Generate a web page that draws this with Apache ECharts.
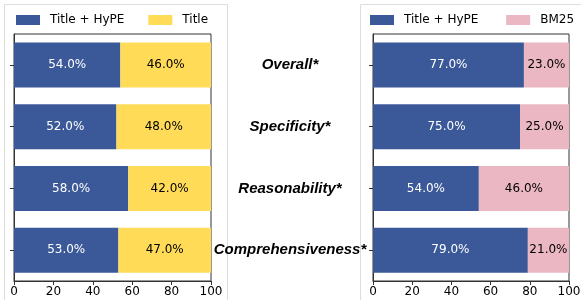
<!DOCTYPE html>
<html>
<head>
    <meta charset="utf-8">
    <title>HyPE comparison</title>
    <script src="https://cdn.jsdelivr.net/npm/echarts@6/dist/echarts.min.js"></script>
</head>
<body style="margin:0;background:#fff;">
    <div id="main" style="width:581px;height:300px;"></div>
    <script type="text/javascript">
    // data
    var categories = ['Overall*', 'Specificity*', 'Reasonability*', 'Comprehensiveness*'];
    var hypeVsTitle = [54, 52, 58, 53];
    var titleOnly = [46, 48, 42, 47];
    var hypeVsBm25 = [77, 75, 54, 79];
    var bm25 = [23, 25, 46, 21];
    var xTicks = [0, 20, 40, 60, 80, 100];

    var BLUE = '#3b5998', YELLOW = '#ffdb58', PINK = '#ebb7c3';
    var font = 'DejaVu Sans';

    function pct(p) { return p.value.toFixed(1) + '%'; }

    function xAxis(idx) {
        return {
            gridIndex: idx, type: 'value', min: xTicks[0], max: xTicks[xTicks.length - 1], interval: 20,
            axisLine: {show: true, lineStyle: {color: '#333'}},
            axisTick: {show: true, length: 4, lineStyle: {color: '#333'}},
            axisLabel: {fontFamily: font, fontSize: 12, color: '#000', margin: 5},
            splitLine: {show: false}
        };
    }

    function yAxis(idx, showLabels) {
        return {
            gridIndex: idx, type: 'category', data: categories, inverse: true,
            axisLine: {show: true, lineStyle: {color: '#333'}},
            axisTick: {show: true, alignWithLabel: true, length: 4, lineStyle: {color: '#333'}},
            axisLabel: showLabels ? {
                show: true, align: 'center', margin: 83,
                fontFamily: 'Liberation Sans', fontWeight: 'bold', fontStyle: 'italic',
                fontSize: 15, color: '#000'
            } : {show: false}
        };
    }

    function bar(name, data, idx, color, txt) {
        return {
            name: name, type: 'bar', stack: 's' + idx, data: data,
            xAxisIndex: idx, yAxisIndex: idx, barWidth: 45,
            itemStyle: {color: color},
            label: {show: true, position: 'inside', formatter: pct, color: txt, fontFamily: font, fontSize: 12}
        };
    }

    function legend(names, left) {
        return {
            data: names, left: left, top: 14, width: 240, padding: 0,
            itemWidth: 24, itemHeight: 10, itemGap: 24, icon: 'rect',
            textStyle: {fontFamily: font, fontSize: 12, color: '#000', padding: [0, 0, 0, 5]}
        };
    }

    var myChart = echarts.init(document.getElementById('main'));

    var option = {
        animation: false,
        backgroundColor: '#fff',
        graphic: [
            {type: 'rect', shape: {x: 4.5, y: 4.5, width: 223, height: 300}, style: {fill: 'none', stroke: '#dddddd', lineWidth: 1}},
            {type: 'rect', shape: {x: 360.5, y: 4.5, width: 230, height: 300}, style: {fill: 'none', stroke: '#dddddd', lineWidth: 1}}
        ],
        legend: [
            legend(['Title + HyPE', 'Title'], 16),
            legend(['Title + HyPE ', 'BM25'], 370)
        ],
        grid: [
            {left: 14, right: 370, top: 34, bottom: 19, show: true, borderColor: '#333', borderWidth: 1,
             backgroundColor: 'transparent', outerBoundsMode: 'none'},
            {left: 373, right: 12, top: 34, bottom: 19, show: true, borderColor: '#333', borderWidth: 1,
             backgroundColor: 'transparent', outerBoundsMode: 'none'}
        ],
        xAxis: [xAxis(0), xAxis(1)],
        yAxis: [yAxis(0, false), yAxis(1, true)],
        series: [
            bar('Title + HyPE', hypeVsTitle, 0, BLUE, '#fff'),
            bar('Title', titleOnly, 0, YELLOW, '#000'),
            bar('Title + HyPE ', hypeVsBm25, 1, BLUE, '#fff'),
            bar('BM25', bm25, 1, PINK, '#000')
        ]
    };

    myChart.setOption(option);
    </script>
</body>
</html>
